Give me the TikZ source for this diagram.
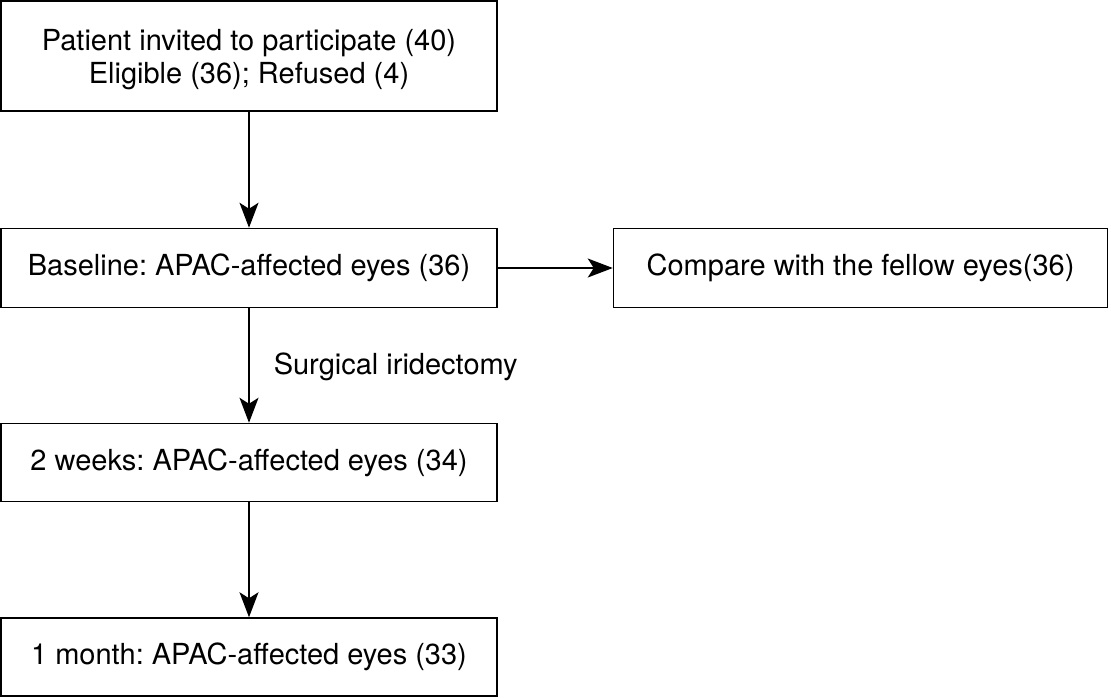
\documentclass[tikz,border=0pt]{standalone}
\usepackage{fontspec}
\setmainfont{TeX Gyre Heros}
\usetikzlibrary{arrows.meta}
\begin{document}
\frenchspacing
\begin{tikzpicture}[x=1pt,y=-1pt,
  txt/.style={font=\fontsize{29}{33}\selectfont},
  box/.style={txt,draw=black,line width=1.5pt,inner sep=0pt,align=center},
  conn/.style={line width=1.5pt,-{Stealth[length=25pt,width=19pt,inset=6pt]}}]
\useasboundingbox (0,0) rectangle (1111,697);
\node[box,minimum width=496pt,minimum height=110pt,text depth=-4pt] (a) at (249,56) {Patient invited to participate (40)\\Eligible (36); Refused (4)};
\node[box,minimum width=496pt,minimum height=79pt] (b) at (249,268) {Baseline: APAC-affected eyes (36)};
\node[box,minimum width=494pt,minimum height=79pt] (c) at (860.5,268) {Compare with the fellow eyes(36)};
\node[box,minimum width=496pt,minimum height=78pt] (d) at (249,462.5) {2 weeks: APAC-affected eyes (34)};
\node[box,minimum width=496pt,minimum height=78pt] (e) at (249,657) {1 month: APAC-affected eyes (33)};
\draw[conn] (a) -- (b);
\draw[conn] (b) -- node[txt,anchor=base west,xshift=24pt,yshift=-9pt,inner sep=0pt]{Surgical iridectomy} (d);
\draw[conn] (d) -- (e);
\draw[conn] (b) -- (c);
\end{tikzpicture}
\end{document}
